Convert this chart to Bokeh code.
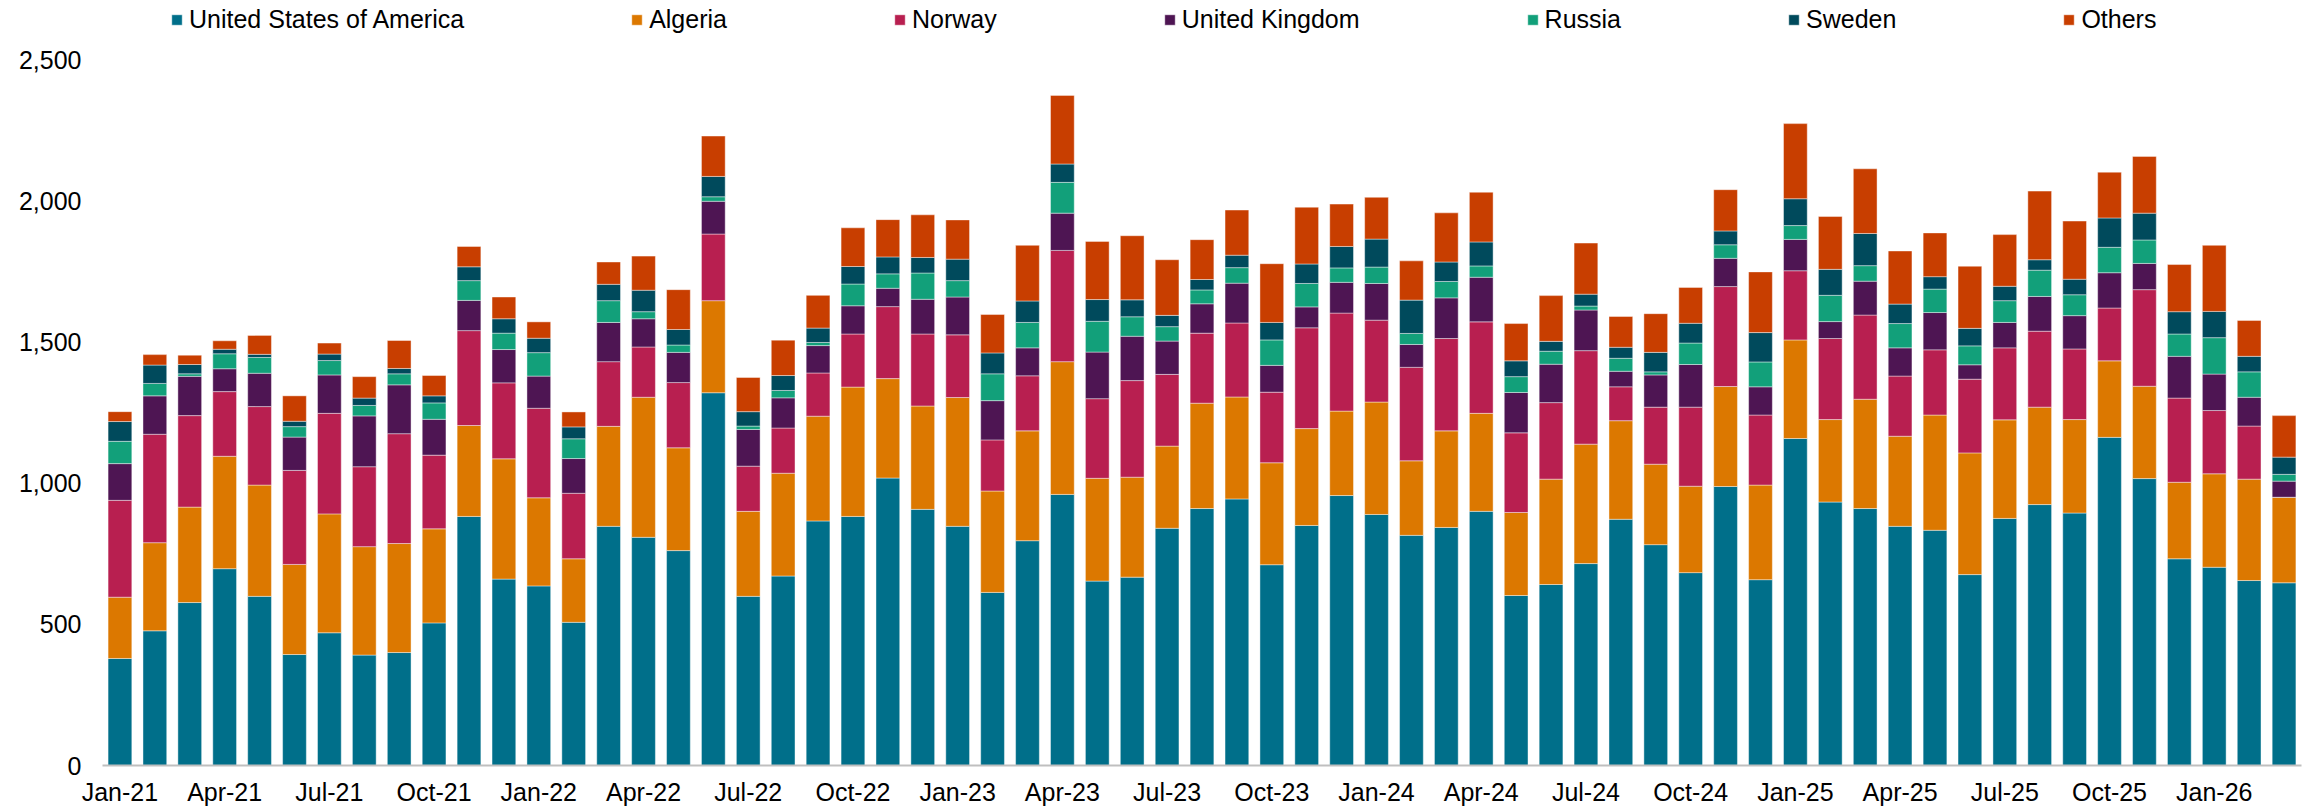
from bokeh.plotting import figure
from bokeh.models import (ColumnDataSource, Range1d, FixedTicker, NumeralTickFormatter,
                          Legend, LegendItem)
from bokeh.embed import file_html
from bokeh.resources import INLINE

month_names = ["Jan", "Feb", "Mar", "Apr", "May", "Jun", "Jul", "Aug", "Sep", "Oct", "Nov", "Dec"]
months = [f"{m}-{y}" for y in range(21, 27) for m in month_names][:63]

series = ["United States of America", "Algeria", "Norway", "United Kingdom", "Russia", "Sweden", "Others"]
colors = ["#006F8A", "#DC7800", "#B81F50", "#4E1553", "#12A07A", "#004A5C", "#C83E00"]

usa = [379, 477, 577, 697, 599, 393, 470, 391, 400, 505, 882, 660, 636, 507, 847, 808, 761, 1320, 599, 671, 866,
       882, 1018, 907, 847, 613, 796, 960, 653, 667, 840, 910, 944, 711, 850, 956, 889, 815, 843, 900, 602, 641,
       715, 872, 782, 683, 988, 658, 1158, 933, 910, 847, 833, 676, 875, 924, 894, 1162, 1016, 732, 702, 655, 647]
algeria = [217, 312, 338, 398, 394, 319, 421, 384, 386, 333, 322, 426, 312, 225, 354, 496, 364, 326, 301, 364, 371,
           458, 352, 366, 456, 359, 389, 470, 364, 354, 291, 373, 361, 361, 343, 299, 398, 264, 342, 347, 294, 373,
           423, 349, 285, 306, 354, 335, 349, 292, 387, 319, 408, 431, 349, 345, 331, 271, 327, 271, 331, 359, 303]
norway = [343, 384, 324, 229, 278, 333, 356, 283, 389, 261, 336, 269, 317, 232, 229, 178, 231, 236, 160, 160, 153,
          188, 255, 255, 222, 181, 195, 394, 282, 342, 254, 248, 262, 250, 357, 347, 290, 331, 327, 324, 282, 271,
          331, 120, 202, 280, 354, 248, 245, 287, 298, 213, 231, 261, 255, 269, 250, 187, 342, 298, 224, 188, 0]
uk = [130, 136, 139, 81, 118, 118, 136, 180, 173, 127, 107, 118, 114, 123, 139, 100, 107, 116, 130, 107, 97,
      100, 65, 123, 134, 139, 99, 132, 165, 157, 118, 104, 141, 95, 74, 109, 130, 81, 144, 158, 143, 136,
      144, 55, 114, 151, 100, 100, 111, 60, 120, 100, 132, 51, 90, 123, 118, 125, 93, 148, 129, 102, 57]
russia = [79, 44, 9, 53, 56, 37, 51, 37, 39, 58, 70, 58, 83, 70, 77, 25, 26, 16, 12, 26, 11,
          77, 51, 93, 58, 95, 90, 109, 109, 69, 51, 49, 55, 90, 83, 51, 58, 39, 58, 40, 56, 46,
          14, 46, 11, 76, 48, 88, 49, 93, 55, 86, 83, 67, 77, 93, 74, 90, 83, 79, 129, 90, 24]
sweden = [70, 65, 33, 16, 11, 19, 23, 26, 19, 25, 49, 51, 51, 42, 58, 76, 55, 72, 51, 53, 51,
          62, 60, 55, 76, 74, 76, 65, 77, 60, 40, 37, 44, 62, 69, 76, 99, 118, 69, 85, 56, 35,
          42, 39, 69, 70, 49, 104, 95, 92, 114, 69, 44, 62, 51, 37, 55, 104, 95, 79, 93, 55, 61]
others = [35, 37, 33, 30, 67, 90, 39, 76, 99, 72, 72, 77, 58, 53, 79, 121, 141, 143, 121, 125, 116,
          137, 132, 151, 139, 136, 197, 243, 206, 227, 197, 141, 160, 208, 201, 150, 148, 139, 174, 176, 132, 162,
          181, 109, 137, 127, 146, 215, 266, 187, 229, 188, 155, 220, 183, 243, 206, 162, 201, 167, 234, 127, 147]

y_ticks = [0, 500, 1000, 1500, 2000, 2500]
x_tick_idx = list(range(0, len(months), 3))

keys = ["usa", "algeria", "norway", "uk", "russia", "sweden", "others"]
source = ColumnDataSource(dict(x=list(range(len(months))), usa=usa, algeria=algeria, norway=norway, uk=uk,
                               russia=russia, sweden=sweden, others=others))

FONT = "Liberation Sans"

# frame spans the full height above the x axis; the top strip (above 2,500) holds the legend
p = figure(width=2307, height=809, output_backend="svg", toolbar_location=None,
           x_range=Range1d(-0.5, len(months) - 0.5), y_range=Range1d(0, 2709),
           min_border_left=102, min_border_right=6, min_border_top=0, min_border_bottom=44)
p.outline_line_color = None
p.xgrid.grid_line_color = None
p.ygrid.grid_line_color = None
p.background_fill_color = "white"
p.border_fill_color = "white"

renderers = p.vbar_stack(keys, x="x", width=0.68, color=colors, source=source,
                         line_color="white", line_width=0.6, line_alpha=0.7)

# axes
p.yaxis.ticker = FixedTicker(ticks=y_ticks)
p.yaxis.formatter = NumeralTickFormatter(format="0,0")
p.yaxis.axis_line_color = None
p.yaxis.major_tick_line_color = None
p.yaxis.minor_tick_line_color = None
p.yaxis.major_tick_out = 0
p.yaxis.major_tick_in = 0
p.yaxis.axis_label_standoff = 0
p.yaxis.major_label_standoff = 21
p.yaxis.major_label_text_font = FONT
p.yaxis.major_label_text_font_size = "25px"
p.yaxis.major_label_text_color = "#000000"

p.xaxis.ticker = FixedTicker(ticks=x_tick_idx)
p.xaxis.major_label_overrides = {i: months[i] for i in x_tick_idx}
p.xaxis.axis_line_color = "#BFBFBF"
p.xaxis.axis_line_width = 2
p.xaxis.major_tick_line_color = None
p.xaxis.minor_tick_line_color = None
p.xaxis.major_tick_out = 0
p.xaxis.major_tick_in = 0
p.xaxis.axis_label_standoff = 0
p.xaxis.major_label_standoff = 12
p.xaxis.major_label_text_font = FONT
p.xaxis.major_label_text_font_size = "25px"
p.xaxis.major_label_text_color = "#000000"

legend = Legend(items=[LegendItem(label=s, renderers=[r]) for s, r in zip(series, renderers)],
                orientation="horizontal", location=(68, 731),
                glyph_width=13, glyph_height=13, label_standoff=6, spacing=166,
                label_text_font=FONT, label_text_font_size="25px", label_text_color="#000000",
                label_height=25, padding=0, margin=0,
                border_line_color=None, background_fill_alpha=0)
p.add_layout(legend, "center")

open("out.html", "w").write(file_html(p, INLINE))
